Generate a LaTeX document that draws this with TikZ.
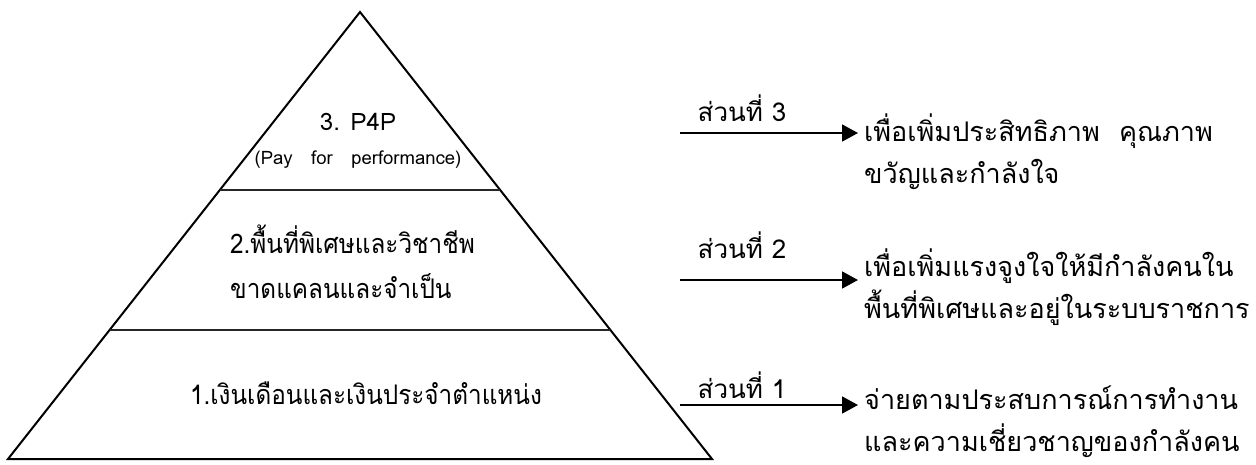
\documentclass[tikz,border=0pt]{standalone}
\usepackage{fontspec}
\setmainfont[Script=Thai]{Loma}
\newfontfamily\thaitall[Script=Thai,FakeStretch=0.9]{Loma}
\usetikzlibrary{arrows.meta,calc}
\begin{document}
\begin{tikzpicture}[x=1pt,y=-1pt,
  edge/.style={line width=2pt,line join=miter},
  divider/.style={line width=2pt,draw=black!85},
  conn/.style={line width=1.8pt,-{Triangle[length=16pt,width=17pt]}},
  big/.style={font=\fontsize{24}{44}\selectfont,inner sep=0pt},
  bigthai/.style={font=\thaitall\fontsize{27}{45}\selectfont,inner sep=0pt},
  small/.style={font=\fontsize{18.5}{20}\selectfont,inner sep=0pt},
  desc/.style={font=\fontsize{27}{42}\selectfont,inner sep=0pt,anchor=north west,align=left},
  part/.style={font=\fontsize{26}{28}\selectfont,inner sep=0pt}]
\useasboundingbox (0,0) rectangle (1256,464);
% pyramid
\coordinate (apex) at (360,12);
\coordinate (bl) at (8,459);
\coordinate (br) at (712,459);
\draw[edge] (apex) -- (br) -- (bl) -- cycle;
\coordinate (d1l) at ($(apex)!0.398!(bl)$);
\coordinate (d1r) at ($(apex)!0.398!(br)$);
\coordinate (d2l) at ($(apex)!0.711!(bl)$);
\coordinate (d2r) at ($(apex)!0.711!(br)$);
\draw[divider] (d1l) -- (d1r);
\draw[divider] (d2l) -- (d2r);
% pyramid texts
\node[big] (p3) at (358,122) {3. P4P};
\node[small] (p3s) at (358,160) {(Pay\quad for\quad performance)};
\node[bigthai,anchor=west,align=left] (p2) at (230,262) {2.พื้นที่พิเศษและวิชาชีพ\\ขาดแคลนและจำเป็น};
\node[bigthai] (p1) at (366,393) {1.เงินเดือนและเงินประจำตำแหน่ง};
% right side
\coordinate (a3s) at (680,133);
\coordinate (a3e) at (858,133);
\coordinate (a2s) at (680,280);
\coordinate (a2e) at (858,280);
\coordinate (a1s) at (680,405);
\coordinate (a1e) at (858,405);
\draw[conn] (a3s) -- (a3e);
\draw[conn] (a2s) -- (a2e);
\draw[conn] (a1s) -- (a1e);
\node[part] (s3) at (742,108) {ส่วนที่ 3};
\node[part] (s2) at (742,245) {ส่วนที่ 2};
\node[part] (s1) at (742,385) {ส่วนที่ 1};
\node[desc] (t3) at (864,114) {เพื่อเพิ่มประสิทธิภาพ\hspace{10pt} คุณภาพ\\ขวัญและกำลังใจ};
\node[desc] (t2) at (864,249) {เพื่อเพิ่มแรงจูงใจให้มีกำลังคนใน\\พื้นที่พิเศษและอยู่ในระบบราชการ};
\node[desc] (t1) at (864,386) {จ่ายตามประสบการณ์การทำงาน\\และความเชี่ยวชาญของกำลังคน};
\end{tikzpicture}
\end{document}
